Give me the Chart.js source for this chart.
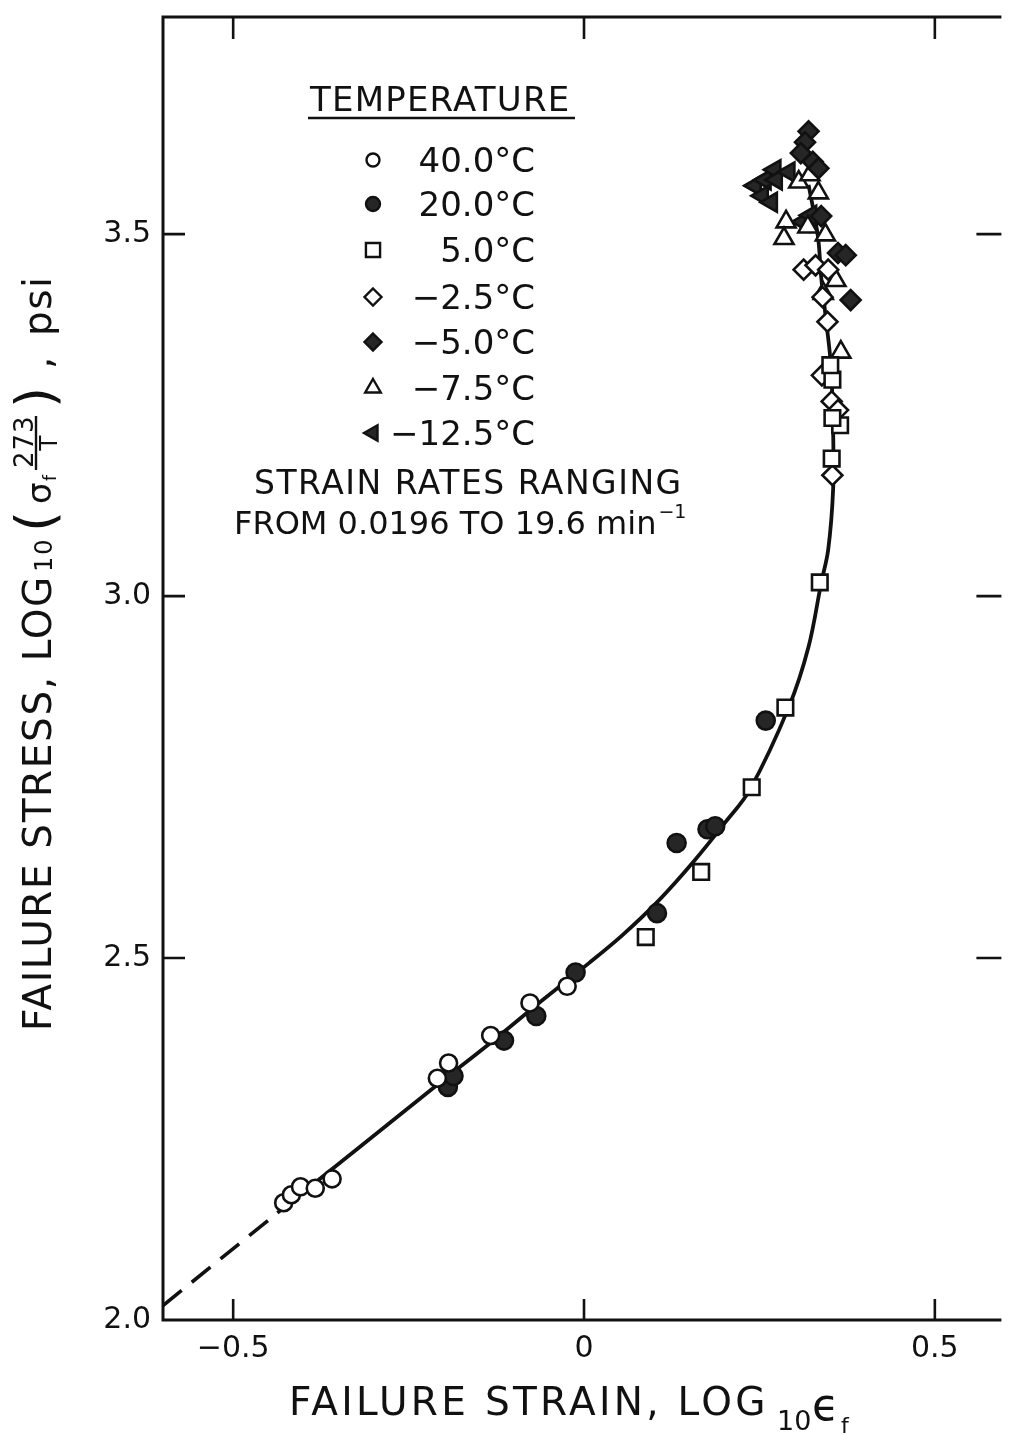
<!DOCTYPE html>
<html><head><meta charset="utf-8">
<script src="https://cdn.jsdelivr.net/npm/chart.js@4/dist/chart.umd.min.js"></script>
<style>
html,body{margin:0;padding:0;background:#fff;overflow:hidden;}
canvas{display:block;}
</style></head>
<body>
<canvas id="c" width="1013" height="1434" style="width:1013px;height:1434px"></canvas>
<script>
// ---------- data ----------
// the picture is cropped just short of the right end of the x axis (0.6)
const xRange = [-0.6, 0.592];
const yRange = [2.0, 3.8];
const xTickValues = [-0.5, 0, 0.5];
const xTickLabels = ['\u22120.5', '0', '0.5'];
const yTickValues = [2.0, 2.5, 3.0, 3.5];
const yTickLabels = ['2.0', '2.5', '3.0', '3.5'];

const legendLabels = ['40.0\u00b0C', '20.0\u00b0C', '5.0\u00b0C', '\u22122.5\u00b0C', '\u22125.0\u00b0C', '\u22127.5\u00b0C', '\u221212.5\u00b0C'];

// 40.0 C (open circles)
const t40x = [-0.428, -0.417, -0.404, -0.383, -0.359, -0.209, -0.193, -0.133, -0.077, -0.024];
const t40y = [2.162, 2.173, 2.184, 2.182, 2.195, 2.334, 2.355, 2.393, 2.438, 2.461];
// 20.0 C (filled circles)
const t20x = [-0.194, -0.186, -0.114, -0.068, -0.012, 0.104, 0.132, 0.176, 0.187, 0.259];
const t20y = [2.322, 2.337, 2.386, 2.420, 2.480, 2.562, 2.659, 2.678, 2.682, 2.828];
// 5.0 C (open squares)
const t5x = [0.088, 0.167, 0.239, 0.287, 0.336, 0.353, 0.365, 0.354, 0.354, 0.351];
const t5y = [2.529, 2.619, 2.736, 2.846, 3.019, 3.190, 3.236, 3.246, 3.299, 3.319];
// -2.5 C (open diamonds)
const tm25x = [0.313, 0.330, 0.348, 0.340, 0.347, 0.339, 0.353, 0.362, 0.354];
const tm25y = [3.451, 3.457, 3.451, 3.413, 3.379, 3.305, 3.269, 3.257, 3.167];
// -5.0 C (filled diamonds)
const tm5x = [0.320, 0.315, 0.309, 0.326, 0.334, 0.338, 0.362, 0.373, 0.380];
const tm5y = [3.642, 3.627, 3.612, 3.600, 3.591, 3.525, 3.474, 3.471, 3.409];
// -7.5 C (open triangles)
const tm75x = [0.306, 0.322, 0.334, 0.288, 0.285, 0.319, 0.344, 0.359, 0.341, 0.366];
const tm75y = [3.572, 3.582, 3.557, 3.517, 3.494, 3.510, 3.499, 3.436, 3.418, 3.337];
// -12.5 C (filled left triangles)
const tm125x = [0.244, 0.258, 0.272, 0.274, 0.254, 0.267, 0.292, 0.312, 0.323];
const tm125y = [3.567, 3.575, 3.589, 3.575, 3.553, 3.544, 3.586, 3.517, 3.526];

// master curve (solid) and its extrapolation (dashed)
const fitX = [-0.437, -0.321, -0.209, -0.133, -0.059, 0.007, 0.054, 0.106, 0.156, 0.201, 0.236, 0.292, 0.320, 0.338, 0.348, 0.355, 0.355, 0.352, 0.345, 0.338, 0.334, 0.327, 0.320];
const fitY = [2.148, 2.238, 2.325, 2.383, 2.442, 2.493, 2.531, 2.579, 2.633, 2.687, 2.732, 2.847, 2.930, 3.018, 3.064, 3.147, 3.230, 3.317, 3.381, 3.441, 3.492, 3.533, 3.568];
const dashX = [-0.600, -0.437];
const dashY = [2.020, 2.148];

// ---------- drawing ----------
const FONT = '"DejaVu Sans", "Liberation Sans", sans-serif';
const INK = '#111111';
const STIP = '#262626';
const pts = (xs, ys) => xs.map((x, i) => ({x: x, y: ys[i]}));

const markerStyles = [
  {style: 'circle', fill: '#ffffff', rot: 0, r: 8.5, lr: 6.5},
  {style: 'circle', fill: STIP, rot: 0, r: 9, lr: 7},
  {style: 'rect', fill: '#ffffff', rot: 0, r: 11, lr: 10},
  {style: 'rectRot', fill: '#ffffff', rot: 0, r: 10, lr: 8.5},
  {style: 'rectRot', fill: STIP, rot: 0, r: 10, lr: 8.5},
  {style: 'triangle', fill: '#ffffff', rot: 0, r: 11, lr: 9},
  {style: 'triangle', fill: STIP, rot: -90, r: 11, lr: 9}
];
const seriesX = [t40x, t20x, t5x, tm25x, tm5x, tm75x, tm125x];
const seriesY = [t40y, t20y, t5y, tm25y, tm5y, tm75y, tm125y];

const datasets = seriesX.map((xs, i) => ({
  label: legendLabels[i],
  data: pts(xs, seriesY[i]),
  pointStyle: markerStyles[i].style,
  rotation: markerStyles[i].rot,
  pointRadius: markerStyles[i].r,
  backgroundColor: markerStyles[i].fill,
  pointBackgroundColor: markerStyles[i].fill,
  borderColor: INK,
  pointBorderColor: INK,
  pointBorderWidth: 2.6,
  showLine: false
}));
datasets.push({
  label: 'curve', data: pts(fitX, fitY), showLine: true, pointRadius: 0,
  borderColor: INK, borderWidth: 3.8, tension: 0.35, fill: false
});
datasets.push({
  label: 'extrapolation', data: pts(dashX, dashY), showLine: true, pointRadius: 0,
  borderColor: INK, borderWidth: 3.6, borderDash: [24, 13], fill: false
});

function drawMarker(ctx, m, x, y, r) {
  ctx.save();
  ctx.beginPath();
  if (m.style === 'circle') {
    ctx.arc(x, y, r, 0, Math.PI * 2);
  } else if (m.style === 'rect') {
    const s = r * Math.SQRT1_2;
    ctx.rect(x - s, y - s, 2 * s, 2 * s);
  } else if (m.style === 'rectRot') {
    ctx.moveTo(x, y - r); ctx.lineTo(x + r, y); ctx.lineTo(x, y + r); ctx.lineTo(x - r, y); ctx.closePath();
  } else if (m.style === 'triangle') {
    let a = m.rot * Math.PI / 180;
    for (let k = 0; k < 3; k++) {
      const px = x + Math.sin(a) * r, py = y - Math.cos(a) * r;
      if (k === 0) ctx.moveTo(px, py); else ctx.lineTo(px, py);
      a += 2 * Math.PI / 3;
    }
    ctx.closePath();
  }
  ctx.fillStyle = m.fill;
  ctx.fill();
  ctx.lineWidth = 2.4;
  ctx.strokeStyle = INK;
  ctx.stroke();
  ctx.restore();
}

const framePlugin = {
  id: 'frame',
  beforeDatasetsDraw(chart) {
    const {ctx, chartArea: a, scales} = chart;
    ctx.save();
    ctx.strokeStyle = INK;
    ctx.lineWidth = 3;
    ctx.beginPath();
    // top, left and bottom axis lines (the right axis lies beyond the cropped edge)
    ctx.moveTo(a.right + 2, a.top); ctx.lineTo(a.left, a.top);
    ctx.lineTo(a.left, a.bottom); ctx.lineTo(a.right + 2, a.bottom);
    ctx.stroke();
    ctx.lineWidth = 2.6;
    ctx.beginPath();
    xTickValues.forEach(v => {
      const px = scales.x.getPixelForValue(v);
      ctx.moveTo(px, a.bottom); ctx.lineTo(px, a.bottom - 21);
      ctx.moveTo(px, a.top); ctx.lineTo(px, a.top + 22);
    });
    yTickValues.forEach(v => {
      if (v === scales.y.min) return;
      const py = scales.y.getPixelForValue(v);
      ctx.moveTo(a.left, py); ctx.lineTo(a.left + 22, py);
      ctx.moveTo(a.right + 2, py); ctx.lineTo(a.right - 23, py);
    });
    ctx.stroke();
    ctx.restore();
  },
  afterDraw(chart) {
    const ctx = chart.ctx;
    ctx.save();
    ctx.fillStyle = INK;
    ctx.strokeStyle = INK;

    // ---- legend ----
    ctx.font = '34px ' + FONT;
    ctx.textAlign = 'left';
    ctx.textBaseline = 'alphabetic';
    ctx.letterSpacing = '1.2px';
    ctx.fillText('TEMPERATURE', 310, 111);
    ctx.letterSpacing = '0px';
    ctx.lineWidth = 2.5;
    ctx.beginPath(); ctx.moveTo(308, 118); ctx.lineTo(575, 118); ctx.stroke();
    const rowY = [160, 204, 250, 297, 342, 388, 433];
    legendLabels.forEach((lab, i) => {
      drawMarker(ctx, markerStyles[i], 373, rowY[i], markerStyles[i].lr);
      ctx.fillStyle = INK;
      ctx.font = '34px ' + FONT;
      ctx.textAlign = 'right';
      ctx.fillText(lab, 535, rowY[i] + 12);
    });
    ctx.textAlign = 'left';
    ctx.font = '33px ' + FONT;
    ctx.letterSpacing = '1.5px';
    ctx.fillText('STRAIN RATES RANGING', 254, 494);
    ctx.letterSpacing = '0px';
    ctx.font = '32px ' + FONT;
    const line2 = 'FROM 0.0196 TO 19.6 min';
    ctx.fillText(line2, 234, 534);
    const w2 = ctx.measureText(line2).width;
    ctx.font = '19px ' + FONT;
    ctx.fillText('\u22121', 234 + w2 + 2, 518);

    // ---- x axis title ----
    ctx.font = '39px ' + FONT;
    ctx.letterSpacing = '3.3px';
    const xt = 'FAILURE STRAIN, LOG';
    ctx.fillText(xt, 289, 1415);
    ctx.letterSpacing = '0px';
    ctx.font = '27px ' + FONT;
    ctx.fillText('10', 777, 1430);
    ctx.font = '44px ' + FONT;
    ctx.fillText('\u03f5', 812, 1420);
    ctx.font = '22px ' + FONT;
    ctx.fillText('f', 841, 1433);

    // ---- y axis title (rotated); u measured upward from y=1031 ----
    ctx.save();
    ctx.translate(51, 1031);
    ctx.rotate(-Math.PI / 2);
    ctx.font = '39px ' + FONT;
    ctx.letterSpacing = '1.6px';
    ctx.fillText('FAILURE STRESS, LOG', 0, 0);
    ctx.letterSpacing = '2px';
    ctx.font = '24px ' + FONT;
    ctx.fillText('10', 459, 1);
    ctx.letterSpacing = '0px';
    ctx.font = '54px ' + FONT;
    ctx.fillText('(', 499, 3);
    ctx.font = '34px ' + FONT;
    ctx.fillText('\u03c3', 527, 0);
    ctx.font = '17px ' + FONT;
    ctx.fillText('f', 550, 5);
    ctx.font = '26px ' + FONT;
    ctx.letterSpacing = '1px';
    ctx.fillText('273', 563, -18);
    ctx.letterSpacing = '0px';
    ctx.lineWidth = 2.4;
    ctx.beginPath(); ctx.moveTo(561, -15); ctx.lineTo(615, -15); ctx.stroke();
    ctx.textAlign = 'center';
    ctx.font = '25px ' + FONT;
    ctx.fillText('T', 588, 6);
    ctx.textAlign = 'left';
    ctx.font = '54px ' + FONT;
    ctx.fillText(')', 623, 3);
    ctx.font = '39px ' + FONT;
    ctx.fillText(',', 662, 0);
    ctx.letterSpacing = '1.5px';
    ctx.fillText('psi', 695, 0);
    ctx.restore();

    ctx.restore();
  }
};

new Chart(document.getElementById('c'), {
  type: 'scatter',
  data: {datasets: datasets},
  options: {
    responsive: false,
    animation: false,
    events: [],
    layout: {padding: {left: 0, top: 17, right: 0, bottom: 0}},
    plugins: {legend: {display: false}, tooltip: {enabled: false}},
    scales: {
      x: {
        type: 'linear', position: 'bottom', min: xRange[0], max: xRange[1],
        afterFit(s) { s.height = 114; s.paddingLeft = 0; s.paddingRight = 0; },
        afterBuildTicks(s) { s.ticks = xTickValues.map(v => ({value: v})); },
        grid: {display: false, drawTicks: false},
        border: {display: false},
        ticks: {
          callback: (v, i) => xTickLabels[i],
          font: {family: FONT, size: 30}, color: INK, padding: 11,
          maxRotation: 0, autoSkip: false
        }
      },
      y: {
        type: 'linear', position: 'left', min: yRange[0], max: yRange[1],
        afterFit(s) { s.width = 163; s.paddingTop = 0; s.paddingBottom = 0; },
        afterBuildTicks(s) { s.ticks = yTickValues.map(v => ({value: v})); },
        grid: {display: false, drawTicks: false},
        border: {display: false},
        ticks: {
          callback: (v, i) => yTickLabels[i],
          font: {family: FONT, size: 30}, color: INK, padding: 12,
          autoSkip: false
        }
      }
    }
  },
  plugins: [framePlugin]
});
</script>
</body></html>
